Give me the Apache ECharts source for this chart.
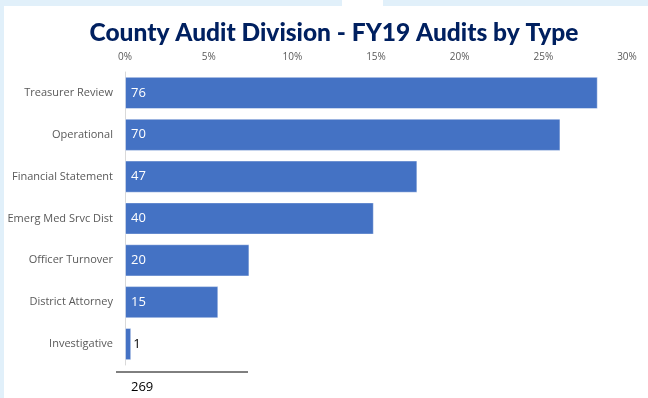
<!DOCTYPE html>
<html><head><meta charset="utf-8">
<script src="https://cdn.jsdelivr.net/npm/echarts@6/dist/echarts.min.js"></script>
<style>html,body{margin:0;padding:0;background:#fff}#c{width:648px;height:398px}</style>
</head><body><div id="c"></div>
<script>
const categories = ["Treasurer Review","Operational","Financial Statement","Emerg Med Srvc Dist","Officer Turnover","District Attorney","Investigative"];
const counts = [76,70,47,40,20,15,1];
const totalLabel = "269";
const total = 269;
const tickPcts = [0,5,10,15,20,25,30];

const chart = echarts.init(document.getElementById('c'));
const pctData = counts.map(function(v, i){
  return {
    value: v / total * 100,
    label: v < 5 ? {position:'right', color:'#000', distance:2} : {}
  };
});
chart.setOption({
  animation:false,
  backgroundColor:'#fff',
  title:{text:'County Audit Division - FY19 Audits by Type', left:329, top:16, textAlign:'center',
    textStyle:{fontFamily:'Lato', fontWeight:900, fontSize:24.5, color:'#002060'}},
  grid:{left:125, right:21, top:72, bottom:33},
  xAxis:{type:'value', position:'top', min:0, max:tickPcts[tickPcts.length-1], interval:5,
    axisLine:{show:false}, axisTick:{show:false}, splitLine:{show:false},
    axisLabel:{formatter:function(v){return v+'%';}, color:'#595959', fontSize:10, fontFamily:'Open Sans', margin:10}},
  yAxis:{type:'category', inverse:true, data:categories,
    axisLine:{show:true, lineStyle:{color:'#d9d9d9'}}, axisTick:{show:false},
    axisLabel:{color:'#595959', fontSize:11, fontFamily:'Open Sans', margin:12}},
  series:[{type:'bar', data:pctData, barCategoryGap:'23%',
    itemStyle:{color:'#4472C4', borderColor:'rgba(255,255,255,0.45)', borderWidth:1},
    label:{show:true, position:'insideLeft', distance:6, color:'#fff', fontSize:13, fontFamily:'Open Sans',
      formatter:function(p){return counts[p.dataIndex];}}
  }],
  graphic:[
    {type:'rect', shape:{x:0,y:0,width:342,height:6}, style:{fill:'#e1f0fa'}, silent:true},
    {type:'rect', shape:{x:383,y:0,width:265,height:6}, style:{fill:'#e1f0fa'}, silent:true},
    {type:'rect', shape:{x:0,y:0,width:4,height:398}, style:{fill:'#e1f0fa'}, silent:true},
    {type:'line', shape:{x1:116,y1:372,x2:248,y2:372}, style:{stroke:'#000', lineWidth:1}},
    {type:'text', left:131, top:381, style:{text:totalLabel, fill:'#000', fontSize:13, fontFamily:'Open Sans'}}
  ]
});
</script></body></html>
